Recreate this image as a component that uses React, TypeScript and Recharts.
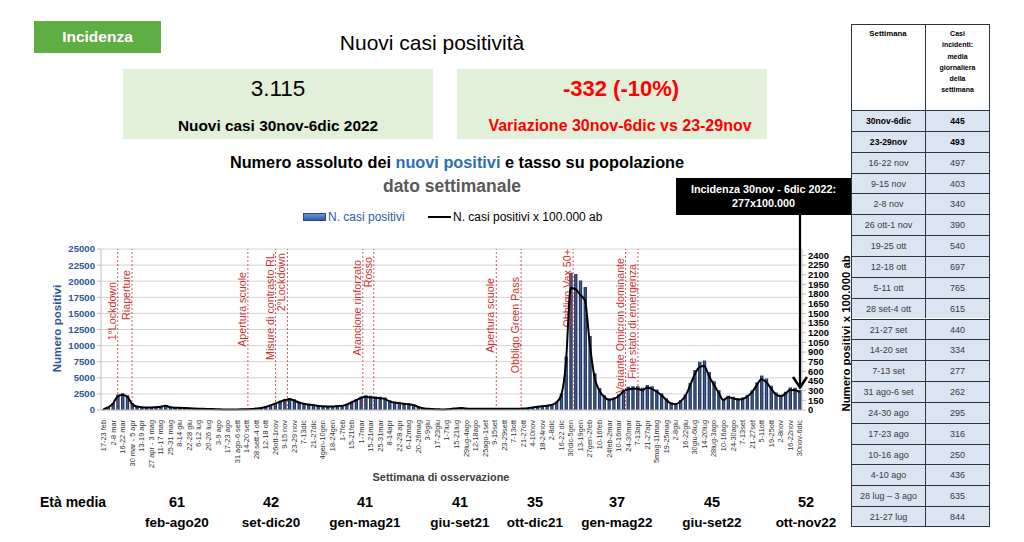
import React from 'react';
import { ComposedChart, Bar, Line, XAxis, YAxis, CartesianGrid, ReferenceLine } from 'recharts';

const weekLabels = [
  '17-23 feb', '2-8 mar', '16-22 mar', '30 mar - 5 apr', '13-19 apr', '27 apr - 3 mag', '11-17 mag', '25-31 mag',
  '8-14 giu', '22-28 giu', '6-12 lug', '20-26 lug', '3-9 ago', '17-23 ago', '31 ago-6 sett', '14-20 sett',
  '28 sett-4 ott', '12-18 ott', '26ott-1nov', '9-15 nov', '23-29 nov', '7-13dic', '21-27dic', '4gen-10gen',
  '18-24gen', '1-7feb', '15-21feb', '1-7mar', '15-21mar', '25-31mar', '8-14apr', '22-28 apr',
  '6-12mag', '20-26mag', '3-9giu', '17-23giu', '1-7lug', '15-21lug', '29lug-4ago', '12-18ago',
  '25ago-1set', '9-15set', '23-29sett', '7-13ott', '21-27ott', '4-10nov', '18-24nov', '2-8dic',
  '16-22 dic', '30dic-5gen', '13-19gen', '27gen-2feb', '10-16feb', '24feb-2mar', '10-16mar', '24-30mar',
  '7-13apr', '21-27apr', '5mag-11mag', '19-25mag', '2-8giu', '16-22giu', '30giu-6lug', '14-20lug',
  '28lug-3ago', '10-16ago', '24-30ago', '7-13set', '21-27set', '5-11ott', '19-25ott', '2-8nov',
  '16-22nov', '30nov-6dic',
];

const cases = [
  150, 450, 1100, 2400, 2600, 2300, 1100, 600, 500, 450,
  450, 500, 550, 750, 500, 400, 380, 350, 300, 260,
  230, 210, 180, 160, 130, 100, 100, 100, 100, 110,
  130, 160, 250, 350, 550, 800, 1100, 1450, 1700, 1850,
  1650, 1300, 1100, 950, 850, 700, 650, 620, 600, 680,
  720, 950, 1300, 1700, 2100, 2300, 2200, 2100, 2050, 1950,
  1500, 1300, 1200, 1100, 1000, 880, 550, 300, 200, 160,
  130, 100, 140, 200, 280, 350, 270, 230, 210, 200,
  210, 220, 240, 220, 200, 200, 210, 230, 260, 330,
  450, 550, 650, 750, 900, 1300, 2600, 8300, 21300, 21100,
  20100, 19100, 11500, 5700, 3400, 2300, 1800, 1950, 2400, 3200,
  3600, 3700, 3700, 3450, 3900, 3700, 3200, 2600, 1800, 1150,
  1000, 1500, 2400, 4200, 6200, 7500, 7700, 5908, 4445, 3052,
  1750, 2212, 2065, 1834, 1939, 2338, 3080, 4305, 5355, 4879,
  3780, 2730, 2380, 2821, 3479, 3451, 3115,
];

const rate = [
  13, 40, 98, 213, 231, 205, 98, 53, 44, 40,
  40, 44, 49, 67, 44, 36, 34, 31, 27, 23,
  20, 19, 16, 14, 12, 9, 9, 9, 9, 10,
  12, 14, 22, 31, 49, 71, 98, 129, 151, 165,
  147, 116, 98, 84, 76, 62, 58, 55, 53, 60,
  64, 84, 116, 151, 187, 205, 196, 187, 182, 173,
  133, 116, 107, 98, 89, 78, 49, 27, 18, 14,
  12, 9, 12, 18, 25, 31, 24, 20, 19, 18,
  19, 20, 21, 20, 18, 18, 19, 20, 23, 29,
  40, 49, 58, 67, 80, 116, 231, 738, 1894, 1876,
  1787, 1699, 1023, 507, 302, 205, 160, 173, 213, 285,
  320, 329, 329, 307, 347, 329, 285, 231, 160, 102,
  89, 133, 213, 373, 551, 667, 685, 525, 395, 271,
  156, 197, 184, 163, 172, 208, 274, 383, 476, 434,
  336, 243, 212, 251, 309, 307, 277,
];

const eventNames = [
  '1°Lockdown', 'Riaperture', 'Apertura scuole', 'Misure di contrasto RL', '2°Lockdown',
  'Arancione rinforzato', 'Rosso', 'Apertura scuole', 'Obbligo Green Pass', 'Obbligo Vax 50+',
  'Variante Omicron dominante', 'Fine stato di emergenza',
];
const eventWeeks = [3, 6, 30.3, 36.1, 38.6, 54.4, 56.7, 82.4, 87.6, 98.5, 109.5, 112.1];

const leftTicks = [0, 2500, 5000, 7500, 10000, 12500, 15000, 17500, 20000, 22500, 25000];
const rightTicks = [0, 150, 300, 450, 600, 750, 900, 1050, 1200, 1350, 1500, 1650, 1800, 1950, 2100, 2250, 2400];

const ageValues = ['61', '42', '41', '41', '35', '37', '45', '52'];
const agePeriods = ['feb-ago20', 'set-dic20', 'gen-mag21', 'giu-set21', 'ott-dic21', 'gen-mag22', 'giu-set22', 'ott-nov22'];

const tableWeeks = [
  '30nov-6dic', '23-29nov', '16-22 nov', '9-15 nov', '2-8 nov', '26 ott-1 nov', '19-25 ott', '12-18 ott',
  '5-11 ott', '28 set-4 ott', '21-27 set', '14-20 set', '7-13 set', '31 ago-6 set', '24-30 ago', '17-23 ago',
  '10-16 ago', '4-10 ago', '28 lug – 3 ago', '21-27 lug',
];
const tableValues = ['445', '493', '497', '403', '340', '390', '540', '697', '765', '615', '440', '334', '277', '262', '295', '316', '250', '436', '635', '844'];

// ---------- layout / style ----------
const SANS = "'Liberation Sans', Arial, sans-serif";
const RED = '#d0312d';
const BLUE_AX = '#2f5597';
const BORDER = '#2b3540';
const eventLabelTop = [282, 270, 272, 253, 253, 260, 257, 278, 277, 249, 258, 264];
const ageX = [177, 271, 365, 460, 535, 617, 712, 806];

const data = cases.map((c, i) => ({ i, cases: c, rate: rate[i] }));
const xTicks = weekLabels.map((_, k) => k * 2);

function XTick(props: any) {
  const { x, y, payload } = props;
  const label = weekLabels[Math.round(payload.value / 2)];
  return (
    <text transform={`translate(${x + 2.7},${y + 2}) rotate(-90)`} textAnchor="end" fontSize={7.4} fill="#333" fontFamily={SANS}>
      {label}
    </text>
  );
}

const makeEventLabel = (text: string, top: number) => (p: any) => {
  const vb = p.viewBox || {};
  const x = vb.x;
  return (
    <text transform={`translate(${x - 2},${top}) rotate(-90)`} textAnchor="end" fontSize={10.7} fill={RED} fontFamily={SANS}>
      {text}
    </text>
  );
};

function T(props: { cx: number; cy: number; size: number; weight?: number; color?: string; children: React.ReactNode }) {
  const { cx, cy, size, weight = 400, color = '#000', children } = props;
  const lh = size * 1.25;
  return (
    <div style={{ position: 'absolute', left: cx - 300, width: 600, top: cy - lh / 2, height: lh, lineHeight: `${lh}px`, fontSize: size, fontWeight: weight, color, textAlign: 'center', whiteSpace: 'nowrap' }}>
      {children}
    </div>
  );
}

function VText(props: { cx: number; cy: number; size: number; color: string; children: React.ReactNode }) {
  const { cx, cy, size, color, children } = props;
  return (
    <div style={{ position: 'absolute', left: cx - 150, top: cy - size * 0.65, width: 300, height: size * 1.3, lineHeight: `${size * 1.3}px`, textAlign: 'center', fontSize: size, fontWeight: 700, color, transform: 'rotate(-90deg)', whiteSpace: 'nowrap' }}>
      {children}
    </div>
  );
}

export default function App() {
  const tLeft = 851, tMid = 925, tRight = 990, tTop = 24, headH = 86, rowH = 20.85;
  const cell = (k: number): React.CSSProperties => ({
    position: 'absolute', top: tTop + headH + rowH * k, height: rowH, background: '#dbe5f1',
    borderTop: `1.2px solid ${BORDER}`, borderLeft: `1.2px solid ${BORDER}`, boxSizing: 'border-box', textAlign: 'center',
    lineHeight: `${rowH}px`, fontSize: k < 2 ? 8.6 : 9, fontWeight: k < 2 ? 700 : 400, color: k < 2 ? '#000' : '#3a3a3a', whiteSpace: 'nowrap',
  });
  return (
    <div style={{ position: 'absolute', left: 0, top: 0, width: 1024, height: 542, background: '#fff', overflow: 'hidden', fontFamily: SANS }}>
      <div style={{ position: 'absolute', left: 0, top: 0 }}>
        <ComposedChart width={850} height={542} data={data} margin={{ top: 249, right: 0, bottom: 62, left: 41 }}>
          <defs>
            <linearGradient id="barGrad" x1="0" y1="0" x2="1" y2="0">
              <stop offset="0%" stopColor="#0e1c38" />
              <stop offset="50%" stopColor="#3f5f9c" />
              <stop offset="100%" stopColor="#0e1c38" />
            </linearGradient>
          </defs>
          <CartesianGrid yAxisId="l" vertical={false} stroke="#d4d4d4" strokeWidth={1} />
          <XAxis
            dataKey="i"
            type="number"
            domain={[-0.5, 146.5]}
            ticks={xTicks}
            interval={0}
            tick={<XTick />}
            tickLine={false}
            axisLine={{ stroke: '#bfbfbf' }}
            height={70}
            allowDataOverflow
          />
          <YAxis
            yAxisId="l"
            domain={[0, 25000]}
            ticks={leftTicks}
            interval={0}
            width={60}
            tick={{ fill: BLUE_AX, fontSize: 9.6, fontWeight: 700, fontFamily: SANS }}
            tickLine={{ stroke: '#bfbfbf' }}
            axisLine={{ stroke: '#bfbfbf' }}
            tickSize={4}
          />
          <YAxis
            yAxisId="r"
            orientation="right"
            domain={[0, 2500]}
            ticks={rightTicks}
            interval={0}
            width={48}
            tick={{ fill: '#000', fontSize: 9.4, fontWeight: 700, fontFamily: SANS }}
            tickLine={{ stroke: '#bfbfbf' }}
            axisLine={{ stroke: '#bfbfbf' }}
            tickSize={4}
          />
          {eventWeeks.map((w, k) => (
            <ReferenceLine
              key={k}
              yAxisId="l"
              x={w}
              stroke={RED}
              strokeWidth={0.8}
              strokeDasharray="2 2"
              label={makeEventLabel(eventNames[k], eventLabelTop[k])}
            />
          ))}
          <Bar yAxisId="l" dataKey="cases" fill="url(#barGrad)" barSize={3.3} isAnimationActive={false} />
          <Line yAxisId="r" dataKey="rate" type="monotone" stroke="#000" strokeWidth={2} dot={false} isAnimationActive={false} />
        </ComposedChart>
      </div>

      {/* header */}
      <div style={{ position: 'absolute', left: 34, top: 21, width: 127, height: 32, background: '#5fae43', color: '#fff', fontWeight: 700, fontSize: 15.5, display: 'flex', alignItems: 'center', justifyContent: 'center' }}>Incidenza</div>
      <T cx={432} cy={43} size={21}>Nuovi casi positività</T>

      <div style={{ position: 'absolute', left: 123, top: 69, width: 310, height: 70, background: '#e2efd9' }} />
      <div style={{ position: 'absolute', left: 457, top: 69, width: 310, height: 70, background: '#e2efd9' }} />
      <T cx={278} cy={89} size={22.5}>3.115</T>
      <T cx={278} cy={126} size={15.4} weight={700}>Nuovi casi 30nov-6dic 2022</T>
      <T cx={621} cy={89} size={22} weight={700} color="#ff0000">-332 (-10%)</T>
      <T cx={620} cy={126} size={16} weight={700} color="#ff0000">Variazione 30nov-6dic vs 23-29nov</T>

      <T cx={457} cy={162} size={16.3} weight={700}>
        Numero assoluto dei <span style={{ color: '#2e6cb5' }}>nuovi positivi</span> e tasso su popolazione
      </T>
      <T cx={452} cy={187} size={17.5} weight={700} color="#595959">dato settimanale</T>

      {/* legend */}
      <div style={{ position: 'absolute', left: 303, top: 213, width: 23, height: 8, background: 'linear-gradient(#6e93d6,#2f5ca8)', border: '0.5px solid #24488a', boxSizing: 'border-box' }} />
      <div style={{ position: 'absolute', left: 328, top: 209, fontSize: 12, lineHeight: '16px', color: '#2e5c9e', whiteSpace: 'nowrap' }}>N. casi positivi</div>
      <div style={{ position: 'absolute', left: 428, top: 216, width: 23, height: 2, background: '#000' }} />
      <div style={{ position: 'absolute', left: 453, top: 209, fontSize: 12, lineHeight: '16px', color: '#000', whiteSpace: 'nowrap' }}>N. casi positivi x 100.000 ab</div>

      {/* annotation box + arrow */}
      <div style={{ position: 'absolute', left: 676, top: 178, width: 175, height: 37, background: '#000', color: '#fff', fontWeight: 700, fontSize: 10.8, textAlign: 'center', lineHeight: '14px', paddingTop: 4, boxSizing: 'border-box' }}>
        Incidenza 30nov - 6dic 2022:<br />277x100.000
      </div>
      <svg style={{ position: 'absolute', left: 0, top: 0 }} width={1024} height={542}>
        <line x1={800} y1={215} x2={800} y2={387} stroke="#000" strokeWidth={2.2} />
        <polyline points="793,377 800,387.5 807,377" fill="none" stroke="#000" strokeWidth={2.6} />
      </svg>

      {/* axis titles */}
      <VText cx={57} cy={329} size={11.6} color={BLUE_AX}>Numero positivi</VText>
      <VText cx={846} cy={333} size={11.4} color="#000">Numero positivi x 100.000 ab</VText>
      <T cx={441} cy={478} size={10.9} weight={700} color="#404040">Settimana di osservazione</T>

      {/* age row */}
      <div style={{ position: 'absolute', left: 40, top: 493, fontSize: 14, fontWeight: 700, lineHeight: '18px' }}>Età media</div>
      {ageValues.map((v, k) => (
        <T key={'a' + k} cx={ageX[k]} cy={502} size={14.5} weight={700}>{v}</T>
      ))}
      {agePeriods.map((v, k) => (
        <T key={'p' + k} cx={ageX[k]} cy={523} size={13.5} weight={700}>{v}</T>
      ))}

      {/* table */}
      <div style={{ position: 'absolute', left: tLeft, top: tTop, width: tRight - tLeft, height: headH + rowH * tableWeeks.length, border: `1.2px solid ${BORDER}`, boxSizing: 'border-box' }} />
      <div style={{ position: 'absolute', left: tLeft, top: tTop, width: tMid - tLeft, height: headH, textAlign: 'center', fontSize: 7.8, fontWeight: 700, paddingTop: 5, boxSizing: 'border-box' }}>Settimana</div>
      <div style={{ position: 'absolute', left: tMid, top: tTop, width: tRight - tMid, height: headH, textAlign: 'center', fontSize: 7, fontWeight: 700, lineHeight: '11.3px', paddingTop: 4, boxSizing: 'border-box' }}>
        Casi<br />incidenti:<br />media<br />giornaliera<br />della<br />settimana
      </div>
      {tableWeeks.map((w, k) => (
        <React.Fragment key={'r' + k}>
          <div style={{ ...cell(k), left: tLeft, width: tMid - tLeft }}>{w}</div>
          <div style={{ ...cell(k), left: tMid, width: tRight - tMid, borderRight: `1.2px solid ${BORDER}` }}>{tableValues[k]}</div>
        </React.Fragment>
      ))}
      <div style={{ position: 'absolute', left: tMid, top: tTop, width: 1.2, height: headH, background: BORDER }} />
      <div style={{ position: 'absolute', left: tLeft, top: tTop + headH + rowH * tableWeeks.length - 1.2, width: tRight - tLeft, height: 1.2, background: BORDER }} />
    </div>
  );
}
